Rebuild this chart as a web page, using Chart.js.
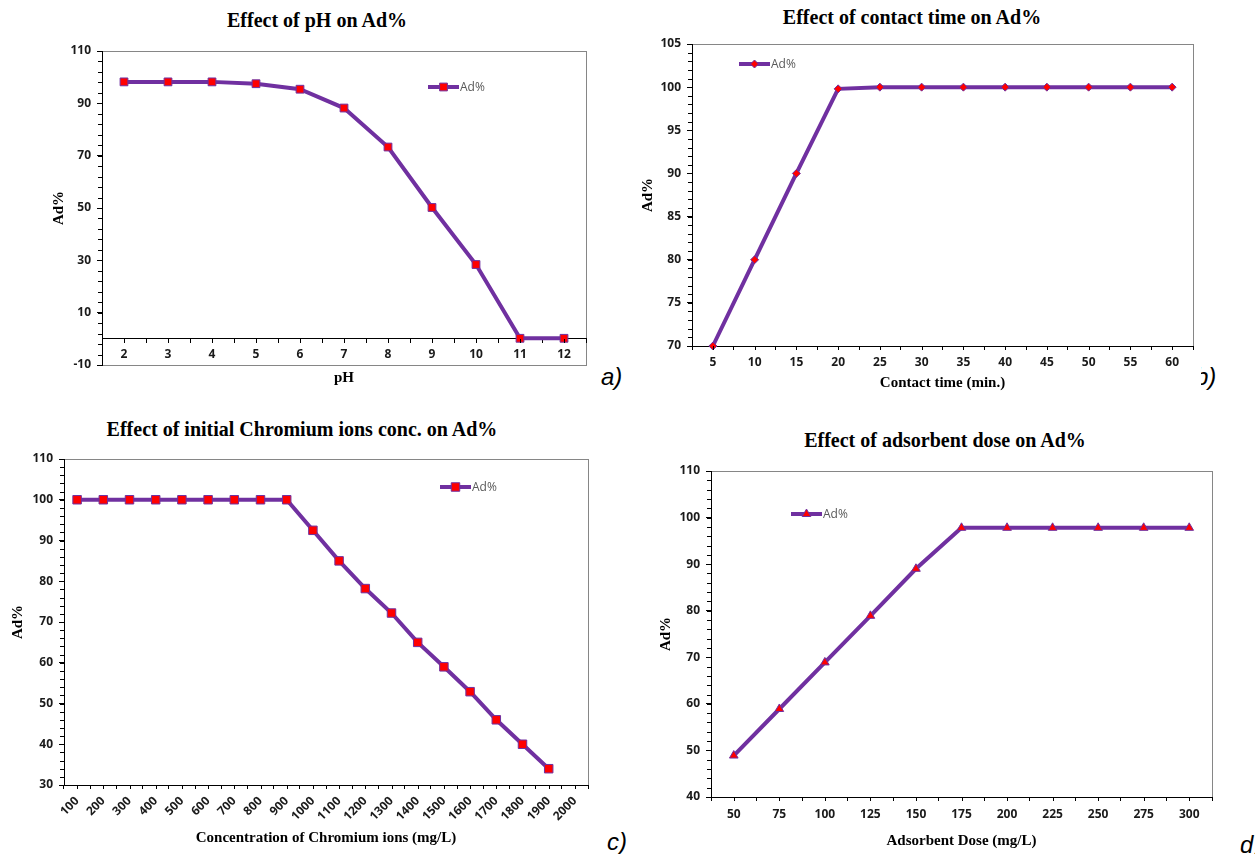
<!DOCTYPE html>
<html>
<head>
<meta charset="utf-8">
<title>Ad% charts</title>
<script src="https://cdn.jsdelivr.net/npm/chart.js@4/dist/chart.umd.min.js"></script>
<style>
  body { margin: 0; background: #fff; }
  #page { position: relative; width: 1255px; height: 854px; overflow: hidden; background: #fff; }
  canvas { position: absolute; }
  .ttl { position: absolute; width: 600px; text-align: center; white-space: nowrap;
         font: bold 20px "Liberation Serif", "Times New Roman", serif; line-height: 24px; color: #000; }
  .tag { position: absolute; font: italic 24px "Liberation Sans", Arial, sans-serif; line-height: 24px; color: #000; white-space: nowrap; }
  .clip { position: absolute; overflow: hidden; height: 30px; }
</style>
</head>
<body>
<div id="page">
  <div class="ttl" style="left:17px;top:8px">Effect of pH on Ad%</div>
  <div class="ttl" style="left:612px;top:5px">Effect of contact time on Ad%</div>
  <div class="ttl" style="left:2px;top:417px">Effect of initial Chromium ions conc. on Ad%</div>
  <div class="ttl" style="left:645px;top:428px">Effect of adsorbent dose on Ad%</div>

  <canvas id="chA" width="600" height="400" style="left:0;top:0"></canvas>
  <canvas id="chB" width="570" height="400" style="left:630px;top:0"></canvas>
  <canvas id="chC" width="600" height="444" style="left:0;top:410px"></canvas>
  <canvas id="chD" width="600" height="444" style="left:630px;top:410px"></canvas>

  <div class="tag" style="left:601px;top:365px">a)</div>
  <div class="clip" style="left:1201px;top:365px;width:30px"><span class="tag" style="left:-6px;top:0">b)</span></div>
  <div class="tag" style="left:607px;top:830px">c)</div>
  <div class="tag" style="left:1240px;top:833px">d)</div>
</div>

<script>
// pH series
const phLabels = ['2', '3', '4', '5', '6', '7', '8', '9', '10', '11', '12'];
const phAd = [98.2, 98.2, 98.2, 97.5, 95.4, 88.2, 73.3, 50.2, 28.4, 0.2, 0.2];

// contact time series (min.)
const timeLabels = ['5', '10', '15', '20', '25', '30', '35', '40', '45', '50', '55', '60'];
const timeAd = [70, 80, 90, 99.8, 100, 100, 100, 100, 100, 100, 100, 100];

// initial Cr concentration series (mg/L) - no reading at 2000
const concLabels = ['100', '200', '300', '400', '500', '600', '700', '800', '900', '1000',
  '1100', '1200', '1300', '1400', '1500', '1600', '1700', '1800', '1900', '2000'];
const concAd = [100, 100, 100, 100, 100, 100, 100, 100, 100, 92.5,
  85, 78.2, 72.2, 65, 59, 52.9, 46, 40, 34];

// adsorbent dose series (mg/L)
const doseLabels = ['50', '75', '100', '125', '150', '175', '200', '225', '250', '275', '300'];
const doseAd = [48.9, 58.9, 68.9, 78.9, 89, 97.8, 97.8, 97.8, 97.8, 97.8, 97.8];

const PURPLE = '#7030A0';
const RED = '#FF0000';
const tickFont = { family: '"Open Sans", "Liberation Sans", sans-serif', size: 12, weight: 'bold' };
const axisTitleFont = { family: '"Liberation Serif", "Times New Roman", serif', size: 15, weight: 'bold' };
const tickColor = '#1a1a1a';

// gray plot frame + the small extra tick marks (minor y, category centres on x)
const plotFrame = {
  id: 'plotFrame',
  beforeDraw(chart, args, opts) {
    const { ctx, chartArea: a } = chart;
    ctx.save();
    ctx.strokeStyle = '#868686';
    ctx.lineWidth = 1;
    ctx.strokeRect(Math.round(a.left) + 0.5, Math.round(a.top) + 0.5,
      Math.round(a.right - a.left), Math.round(a.bottom - a.top));
    ctx.restore();
  },
  afterDraw(chart, args, opts) {
    const { ctx, chartArea: a, scales } = chart;
    const y = scales.y, x = scales.x;
    const len = 4;
    ctx.save();
    ctx.strokeStyle = '#000';
    ctx.lineWidth = 1;
    ctx.beginPath();
    for (let v = y.min; v <= y.max + 1e-6; v += opts.yMinor) {
      const py = Math.round(y.getPixelForValue(v)) + 0.5;
      ctx.moveTo(a.left - len, py);
      ctx.lineTo(a.left, py);
    }
    const base = Math.round(opts.xAt === undefined ? a.bottom : y.getPixelForValue(opts.xAt));
    x.ticks.forEach((t, i) => {
      const px = Math.round(x.getPixelForTick(i)) + 0.5;
      ctx.moveTo(px, base);
      ctx.lineTo(px, base + len);
    });
    ctx.stroke();
    ctx.restore();
  }
};

// legend sample drawn inside the plot: line, marker, label
const inlineLegend = {
  id: 'inlineLegend',
  afterDatasetsDraw(chart, args, opts) {
    const { ctx, chartArea: a } = chart;
    const ds = chart.data.datasets[0];
    const x0 = a.left + opts.dx, y0 = a.top + opts.dy;
    ctx.save();
    ctx.strokeStyle = ds.borderColor;
    ctx.lineWidth = ds.borderWidth;
    ctx.beginPath();
    ctx.moveTo(x0, y0);
    ctx.lineTo(x0 + 31, y0);
    ctx.stroke();
    ctx.fillStyle = ds.pointBackgroundColor;
    ctx.strokeStyle = ds.pointBorderColor;
    ctx.lineWidth = ds.pointBorderWidth;
    Chart.helpers.drawPoint(ctx, {
      pointStyle: ds.pointStyle, radius: ds.pointRadius,
      borderWidth: ds.pointBorderWidth, rotation: 0
    }, x0 + 15.5, y0);
    ctx.fillStyle = '#595959';
    ctx.font = '12px "Open Sans", "Liberation Sans", sans-serif';
    ctx.textBaseline = 'middle';
    ctx.fillText(ds.label, x0 + 32, y0 + 0.5);
    ctx.restore();
  }
};

function series(values, pointStyle, radius) {
  return {
    label: 'Ad%',
    data: values,
    xAxisID: 'x',
    yAxisID: 'y',
    borderColor: PURPLE,
    borderWidth: 4,
    tension: 0,
    clip: false,
    pointStyle: pointStyle,
    pointRadius: radius,
    pointBackgroundColor: RED,
    pointBorderColor: PURPLE,
    pointBorderWidth: 1
  };
}

function valueAxis(min, max, step, width, titlePad) {
  return {
    min: min,
    max: max,
    ticks: { stepSize: step, font: tickFont, color: tickColor, padding: 6 },
    grid: { drawOnChartArea: false, tickLength: 5, color: '#000' },
    border: { color: '#000', width: 1 },
    title: { display: true, text: 'Ad%', font: axisTitleFont, color: '#000', padding: { top: titlePad, bottom: 0 } },
    afterFit(s) { s.width = width; }
  };
}

function categoryAxis(title, height, titlePad, tickOpts) {
  return {
    type: 'category',
    position: 'bottom',
    offset: true,
    ticks: Object.assign({ font: tickFont, color: tickColor, padding: 5, autoSkip: false, maxRotation: 0 }, tickOpts || {}),
    grid: { drawOnChartArea: false, tickLength: 4, color: '#000', offset: true },
    border: { color: '#000', width: 1 },
    title: { display: true, text: title, font: axisTitleFont, color: '#000', padding: { top: 0, bottom: titlePad } },
    afterFit(s) { s.height = height; }
  };
}

function baseOptions(p, scales) {
  return {
    responsive: false,
    animation: false,
    events: [],
    layout: { padding: { top: p.top, right: p.right, left: 0, bottom: 0 } },
    plugins: {
      legend: { display: false },
      tooltip: { enabled: false },
      title: { display: false },
      plotFrame: { yMinor: p.yMinor, xAt: p.xAt },
      inlineLegend: { dx: p.legendDx, dy: p.legendDy }
    },
    scales: scales
  };
}

// a) pH: category axis crosses at Ad% = 0, its title sits on a bare bottom axis
new Chart(document.getElementById('chA'), {
  type: 'line',
  data: { labels: phLabels, datasets: [series(phAd, 'rect', 5.5)] },
  options: baseOptions({ top: 51, right: 14, yMinor: 4, xAt: 0, legendDx: 326, legendDy: 36 }, {
    x: {
      type: 'category',
      position: { y: 0 },
      offset: true,
      ticks: { font: tickFont, color: tickColor, padding: 5, autoSkip: false, maxRotation: 0 },
      grid: { drawOnChartArea: false, tickLength: 4, color: '#000', offset: true },
      border: { color: '#000', width: 1 }
    },
    xt: {
      type: 'category',
      position: 'bottom',
      ticks: { display: false },
      grid: { display: false },
      border: { display: false },
      title: { display: true, text: 'pH', font: axisTitleFont, color: '#000', padding: { top: 0, bottom: 13 } },
      afterFit(s) { s.height = 35; }
    },
    y: valueAxis(-10, 110, 20, 102, 50.5)
  }),
  plugins: [plotFrame, inlineLegend]
});

// b) contact time
new Chart(document.getElementById('chB'), {
  type: 'line',
  data: { labels: timeLabels, datasets: [series(timeAd, 'rectRot', 4)] },
  options: baseOptions({ top: 44, right: 7, yMinor: 1, legendDx: 47, legendDy: 20 }, {
    x: categoryAxis('Contact time (min.)', 54, 8),
    y: valueAxis(70, 105, 5, 62, 9)
  }),
  plugins: [plotFrame, inlineLegend]
});

// c) initial chromium concentration
new Chart(document.getElementById('chC'), {
  type: 'line',
  data: { labels: concLabels, datasets: [series(concAd, 'rect', 6)] },
  options: baseOptions({ top: 49, right: 12, yMinor: 2, legendDx: 376, legendDy: 28 }, {
    x: categoryAxis('Concentration of Chromium ions (mg/L)', 69, 7, { minRotation: 45, maxRotation: 45, padding: 5 }),
    y: valueAxis(30, 110, 10, 64, 9)
  }),
  plugins: [plotFrame, inlineLegend]
});

// d) adsorbent dose
new Chart(document.getElementById('chD'), {
  type: 'line',
  data: { labels: doseLabels, datasets: [series(doseAd, 'triangle', 5)] },
  options: baseOptions({ top: 61, right: 18, yMinor: 2, legendDx: 80, legendDy: 43 }, {
    x: categoryAxis('Adsorbent Dose (mg/L)', 57, 4, { padding: 6 }),
    y: valueAxis(40, 110, 10, 81, 27)
  }),
  plugins: [plotFrame, inlineLegend]
});
</script>
</body>
</html>
